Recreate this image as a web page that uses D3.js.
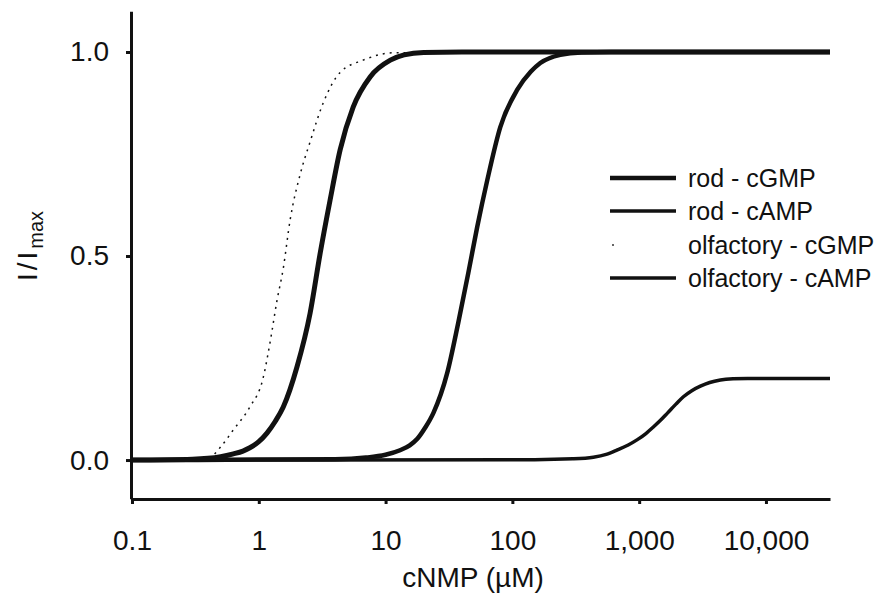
<!DOCTYPE html>
<meta charset="utf-8">
<style>
	body { margin: 0; background: #fff; }
	svg { font-family: "Liberation Sans", Arial, sans-serif; }
	.axis path, .axis line { stroke: #111; stroke-width: 3; fill: none; }
	.axis text { font-size: 28px; fill: #111; }
	.curve { fill: none; stroke: #111; stroke-linejoin: round; }
	.legend text { font-size: 25px; fill: #111; }
</style>
<body>
<script src="https://d3js.org/d3.v7.min.js"></script>
<script>

	// values (concentration in uM, I/Imax)
	var rodCgmpConc = [0.1, 4, 7, 10, 13.0, 15.5, 17.8, 20.5, 23.8, 30.6, 37.4, 44.9, 52.8, 63.4, 80.3, 109, 140, 166, 239, 350, 600, 32000];
	var rodCgmpVal  = [0, 0.002, 0.006, 0.013, 0.024, 0.036, 0.052, 0.079, 0.115, 0.213, 0.336, 0.458, 0.571, 0.686, 0.816, 0.907, 0.952, 0.973, 0.993, 0.999, 1, 1];

	var rodCampConc = [0.1, 150, 300, 435, 550, 673, 820, 968, 1130, 1294, 1480, 1670, 1950, 2233, 2600, 3040, 3600, 4375, 5500, 7145, 32000];
	var rodCampVal  = [0, 0.001, 0.003, 0.007, 0.014, 0.025, 0.037, 0.05, 0.065, 0.081, 0.098, 0.115, 0.137, 0.155, 0.17, 0.181, 0.19, 0.196, 0.199, 0.2, 0.2];

	var olfCgmpConc = [0.1, 0.4, 0.5, 0.63, 0.85, 1.08, 1.23, 1.39, 1.56, 1.77, 2.12, 2.54, 3.22, 4.38, 6.65, 11.5, 32000];
	var olfCgmpVal  = [0, 0.005, 0.032, 0.074, 0.13, 0.2, 0.29, 0.39, 0.47, 0.59, 0.70, 0.78, 0.875, 0.95, 0.98, 0.998, 1];

	var olfCampConc = [0.1, 0.3, 0.5, 0.63, 0.75, 0.85, 1.0, 1.16, 1.35, 1.56, 2.0, 2.54, 3.05, 3.65, 4.38, 5.55, 7.55, 10.9, 14, 20, 40, 32000];
	var olfCampVal  = [0, 0.002, 0.008, 0.015, 0.022, 0.03, 0.045, 0.066, 0.095, 0.13, 0.228, 0.36, 0.507, 0.637, 0.76, 0.865, 0.939, 0.98, 0.993, 0.999, 1, 1];

	var seriesNames = ["rod - cGMP", "rod - cAMP", "olfactory - cGMP", "olfactory - cAMP"];

	var xTickValues = [0.1, 1, 10, 100, 1000, 10000];
	var xTickLabels = ["0.1", "1", "10", "100", "1,000", "10,000"];
	var yTickValues = [0, 0.5, 1];
	var yTickLabels = ["0.0", "0.5", "1.0"];

	var width = 891, height = 595;

	var svg = d3.select("body").append("svg")
		.attr("width", width)
		.attr("height", height);

	var x = d3.scaleLog()
		.domain([0.1, 32000])
		.range([132, 830]);

	var y = d3.scaleLinear()
		.domain([-0.095, 1.1])
		.range([498.8, 11.2]);

	function zip(conc, val) {
		return conc.map(function(c, i) { return {c: c, v: val[i]}; });
	}

	var series = [
		{name: seriesNames[0], pts: zip(rodCgmpConc, rodCgmpVal), w: 4.5, lw: 4.5, dash: null},
		{name: seriesNames[1], pts: zip(rodCampConc, rodCampVal), w: 3.5, lw: 3.5, dash: null},
		{name: seriesNames[2], pts: zip(olfCgmpConc, olfCgmpVal), w: 1.5, lw: 1.5, dash: "2,5"},
		{name: seriesNames[3], pts: zip(olfCampConc, olfCampVal), w: 5, lw: 3.5, dash: null}
	];

	// smooth curve through the read points
	var line = d3.line()
		.x(function(d) { return x(d.c); })
		.y(function(d) { return y(d.v); })
		.curve(d3.curveMonotoneX);

	svg.selectAll(".curve")
		.data(series)
		.enter().append("path")
		.attr("class", "curve")
		.attr("d", function(d) { return line(d.pts); })
		.attr("stroke-width", function(d) { return d.w; })
		.attr("stroke", function(d) { return d.dash ? "#333" : "#111"; })
		.attr("stroke-dasharray", function(d) { return d.dash; });

	// axes
	svg.append("g")
		.attr("class", "axis")
		.attr("transform", "translate(0,499)")
		.call(d3.axisBottom(x)
			.tickValues(xTickValues)
			.tickFormat(function(d, i) { return xTickLabels[i]; })
			.tickSize(5)
			.tickSizeOuter(0)
			.tickPadding(26));

	svg.append("g")
		.attr("class", "axis")
		.attr("transform", "translate(131,0)")
		.call(d3.axisLeft(y)
			.tickValues(yTickValues)
			.tickFormat(function(d, i) { return yTickLabels[i]; })
			.tickSize(5)
			.tickSizeOuter(0)
			.tickPadding(17));

	svg.selectAll(".axis text").attr("font-family", null);

	// axis titles
	svg.append("text")
		.attr("x", 473)
		.attr("y", 587)
		.attr("text-anchor", "middle")
		.attr("font-size", 28)
		.attr("fill", "#111")
		.text("cNMP (\u00b5M)");

	var yt = svg.append("text")
		.attr("transform", "translate(37,246) rotate(-90)")
		.attr("text-anchor", "middle")
		.attr("fill", "#111");
	yt.append("tspan").attr("font-size", 28).attr("letter-spacing", 3).text("I/I");
	yt.append("tspan").attr("font-size", 20).attr("dy", 6).text("max");

	// legend
	var legend = svg.append("g").attr("class", "legend");
	var rowY = [178, 211, 245, 278];

	series.forEach(function(s, i) {
		legend.append("line")
			.attr("x1", 610).attr("x2", 676)
			.attr("y1", rowY[i]).attr("y2", rowY[i])
			.attr("stroke", s.dash ? "#333" : "#111")
			.attr("stroke-width", s.lw)
			.attr("stroke-dasharray", s.dash ? "2,70" : null)
			.attr("stroke-dashoffset", s.dash ? -2 : null);
		legend.append("text")
			.attr("x", 688)
			.attr("y", rowY[i] + 9)
			.text(s.name);
	});

</script>
</body>
